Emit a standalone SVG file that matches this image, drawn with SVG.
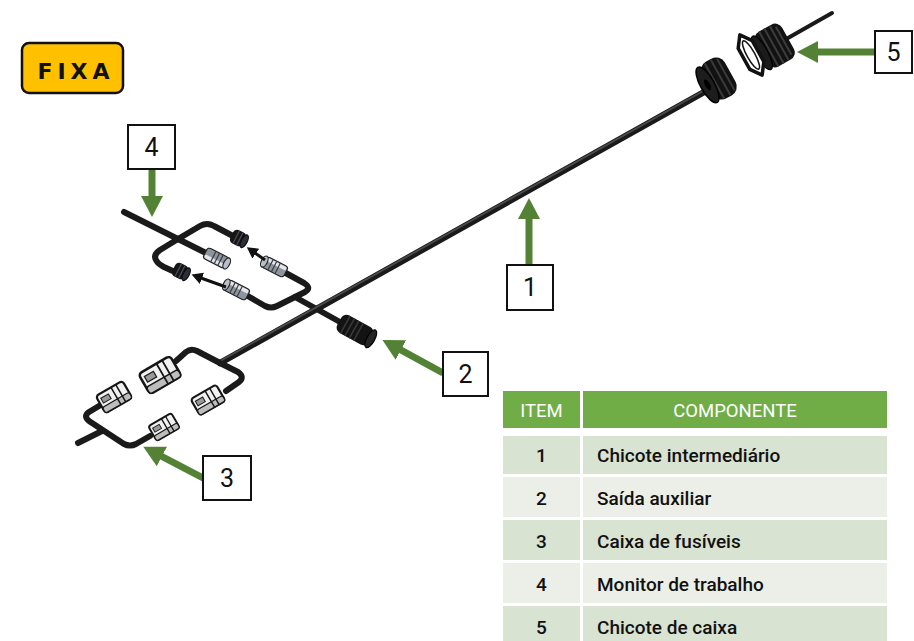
<svg xmlns="http://www.w3.org/2000/svg" xmlns:xlink="http://www.w3.org/1999/xlink" width="914" height="641" viewBox="0 0 914 641">
  <style>
    .wire { fill: none; stroke: #1a1a1a; stroke-width: 6; stroke-linecap: round; stroke-linejoin: round; }
    .wire-hl { fill: none; stroke: #4a4a4a; stroke-width: 1.8; stroke-linecap: round; stroke-linejoin: round; }
    .callout rect { fill: #ffffff; stroke: #111111; stroke-width: 2; }
    .callout text { font-family: Roboto, "Liberation Sans", sans-serif; font-size: 25px; fill: #111111; text-anchor: middle; }
    .green { stroke: #548235; stroke-width: 7; fill: none; marker-end: url(#greenHead); }
    .pointer { stroke: #111111; stroke-width: 3; fill: none; marker-end: url(#blackHead); }
    .th { font-family: Roboto, "Liberation Sans", sans-serif; font-size: 18.5px; fill: #ffffff; text-anchor: middle; }
    .td { font-family: Roboto, "Liberation Sans", sans-serif; font-size: 19px; font-weight: 500; fill: #111111; }
    .num { text-anchor: middle; }
    .hdr { fill: #70ad47; }
    .odd { fill: #d9e3d1; }
    .even { fill: #ebefe7; }
  </style>
  <defs>
    <marker id="greenHead" markerUnits="userSpaceOnUse" markerWidth="22" markerHeight="24" viewBox="0 -12 22 24" refX="1" refY="0" orient="auto">
      <path d="M0,-11 L21,0 L0,11 Z" fill="#548235"/>
    </marker>
    <marker id="blackHead" markerUnits="userSpaceOnUse" markerWidth="12" markerHeight="14" viewBox="0 -7 12 14" refX="1" refY="0" orient="auto">
      <path d="M0,-6 L11,0 L0,6 Z" fill="#111111"/>
    </marker>
    <!-- small metal plug, face at -x -->
    <g id="plug-metal">
      <rect x="-12" y="-6" width="24" height="12" rx="3" fill="#8f959e" stroke="#222" stroke-width="1.2"/>
      <rect x="-11" y="-5" width="22" height="3.5" rx="1.5" fill="#e3e6ea"/>
      <path d="M-5,-6 v12 M-1,-6 v12 M3,-6 v12" stroke="#3a3d44" stroke-width="1.2"/>
      <ellipse cx="-12" cy="0" rx="3" ry="6" fill="#b9bec6" stroke="#222" stroke-width="1.2"/>
    </g>
    <!-- small black knurled plug, face at -x -->
    <g id="plug-black">
      <rect x="-7" y="-7.5" width="14" height="15" rx="4.5" fill="#151515"/>
      <path d="M-2,-7 v14 M2,-7 v14" stroke="#4b4f5a" stroke-width="1.2"/>
      <ellipse cx="-7" cy="0" rx="3" ry="7" fill="#2a2e3a" stroke="#0b0b0b" stroke-width="1.2"/>
    </g>
    <!-- white plastic housing, face at -x -->
    <g id="housing">
      <rect x="-14" y="-9" width="28" height="18" rx="3" fill="#f1f1f1" stroke="#161616" stroke-width="2"/>
      <rect x="-14" y="3" width="28" height="6" rx="2" fill="#bdbdbd" stroke="#161616" stroke-width="1.2"/>
      <path d="M2,-9 v18 M7,-9 v18" stroke="#161616" stroke-width="1.4"/>
      <rect x="-11" y="-5" width="8" height="5" fill="#9a9a9a" stroke="#222" stroke-width="1"/>
    </g>
  </defs>

  <!-- mounting type badge -->
  <g id="badge">
    <rect x="22" y="43" width="101" height="50" rx="7" fill="#ffc000" stroke="#111111" stroke-width="2.5"/>
    <text x="76" y="79" font-family="'DejaVu Sans', Roboto, sans-serif" font-size="22" font-weight="bold" letter-spacing="5" text-anchor="middle" fill="#111111">FIXA</text>
  </g>

  <!-- wiring harness drawing -->
  <g id="harness">
    <!-- monitor branch cluster -->
    <g id="cluster-monitor">
      <path class="wire" d="M124,212 L204,252"/>
      <path class="wire" d="M178,239 L200,226 Q207,222 214,226 L233,236"/>
      <path class="wire" d="M178,239 L160,250 Q153,255 156,260 Q158,264 164,267 L175,272"/>
      <path class="wire" d="M282,271 L304,283 Q312,288 305,292 L277,306 Q271,309 265,306 L246,295"/>
      <path class="wire" d="M295,297 L340,322"/>
      <use xlink:href="#plug-metal" transform="translate(216,258) rotate(207)"/>
      <use xlink:href="#plug-black" transform="translate(238,238) rotate(207)"/>
      <use xlink:href="#plug-black" transform="translate(180,271) rotate(207)"/>
      <use xlink:href="#plug-metal" transform="translate(275,267) rotate(27)"/>
      <use xlink:href="#plug-metal" transform="translate(237,290) rotate(27)"/>
    </g>
    <!-- auxiliary output plug -->
    <g id="aux-plug" transform="translate(355,330) rotate(29)">
      <rect x="-18" y="-10" width="36" height="20" rx="6" fill="#131313"/>
      <path d="M-11,-10 v20 M-6,-10 v20 M-1,-10 v20 M4,-10 v20" stroke="#383838" stroke-width="1.6"/>
      <ellipse cx="18" cy="0" rx="4" ry="10" fill="#232323" stroke="#000" stroke-width="1.2"/>
    </g>
    <!-- fuse box cluster -->
    <g id="cluster-fuse">
      <path class="wire" d="M220,363 L197,351 Q191,348 186,352 L176,361"/>
      <path class="wire" d="M220,363 L238,372 Q245,377 239,382 L226,391"/>
      <path class="wire" d="M78,443 L102,431"/>
      <path class="wire" d="M99,406 L89,412 Q83,416 89,421 L124,444 Q130,447 136,444 L150,436"/>
      <use xlink:href="#housing" transform="translate(160,375) rotate(-30) scale(1.3)"/>
      <use xlink:href="#housing" transform="translate(208,400) rotate(-30) scale(1.05)"/>
      <use xlink:href="#housing" transform="translate(114,397) rotate(-30) scale(1.1)"/>
      <use xlink:href="#housing" transform="translate(164,427) rotate(-30) scale(0.95)"/>
    </g>
    <!-- main intermediate cable -->
    <g id="main-cable">
      <path class="wire" style="stroke-width:6.5" d="M706,91 L220,363"/>
      <path class="wire-hl" d="M705,90 L222,360"/>
      <path class="wire" style="stroke-width:4" d="M788,38 L832,13"/>
    </g>
    <!-- grommet on main cable -->
    <g id="grommet" transform="translate(718,79) rotate(-29)">
      <rect x="-12" y="-21" width="26" height="42" rx="10" fill="#121212"/>
      <path d="M-4,-20 v40 M3,-20 v40 M9,-18 v36" stroke="#3a3a3a" stroke-width="2"/>
      <ellipse cx="-12" cy="0" rx="7" ry="20" fill="#1d1d1d" stroke="#000" stroke-width="1.5"/>
      <ellipse cx="-12" cy="0" rx="2.5" ry="6" fill="#000"/>
    </g>
    <!-- cable gland with lock nut -->
    <g id="gland" transform="translate(774,46) rotate(-29)">
      <rect x="-14" y="-20" width="30" height="40" rx="8" fill="#121212"/>
      <path d="M-6,-20 v40 M0,-20 v40 M6,-19 v38 M11,-16 v32" stroke="#3c3c3c" stroke-width="2"/>
      <ellipse cx="-14" cy="0" rx="6" ry="19" fill="#1b1b1b" stroke="#000" stroke-width="1.2"/>
    </g>
    <g id="locknut" transform="translate(751,55) rotate(-29)">
      <polygon points="0,-23 8,-12 8,12 0,23 -8,12 -8,-12" fill="#ffffff" stroke="#111" stroke-width="3.5" stroke-linejoin="round"/>
      <ellipse cx="0" cy="0" rx="4" ry="16" fill="#ffffff" stroke="#111" stroke-width="1.5"/>
    </g>
  </g>

  <!-- callout arrows -->
  <g id="connectors">
    <line class="green" x1="152" y1="169" x2="152" y2="197"/>
    <line class="green" x1="529" y1="265" x2="529" y2="218"/>
    <line class="green" x1="875" y1="52" x2="817" y2="52"/>
    <line class="green" x1="443" y1="373" x2="400" y2="349.5"/>
    <line class="green" x1="205" y1="479" x2="161" y2="456"/>
    <line class="pointer" x1="265" y1="260" x2="255" y2="253"/>
    <line class="pointer" x1="226" y1="287" x2="201" y2="278"/>
  </g>

  <!-- numbered callout boxes -->
  <g id="callout-4" class="callout">
    <rect x="128" y="125" width="47" height="44"/>
    <text x="151.5" y="156">4</text>
  </g>
  <g id="callout-1" class="callout">
    <rect x="507" y="265" width="46" height="45"/>
    <text x="530" y="296">1</text>
  </g>
  <g id="callout-5" class="callout">
    <rect x="875" y="31" width="37" height="42"/>
    <text x="893.5" y="61">5</text>
  </g>
  <g id="callout-2" class="callout">
    <rect x="443" y="352" width="45" height="44"/>
    <text x="465.5" y="383">2</text>
  </g>
  <g id="callout-3" class="callout">
    <rect x="203" y="456" width="48" height="44"/>
    <text x="227" y="487">3</text>
  </g>

  <!-- component legend -->
  <g id="legend">
    <rect class="hdr" x="503" y="391" width="77" height="37"/>
    <rect class="hdr" x="583" y="391" width="304" height="37"/>
    <text class="th" x="541.5" y="417">ITEM</text>
    <text class="th" x="735" y="417">COMPONENTE</text>

    <rect class="odd" x="503" y="436" width="77" height="38"/>
    <rect class="odd" x="583" y="436" width="304" height="38"/>
    <text class="td num" x="541.5" y="462">1</text>
    <text class="td" x="597" y="462">Chicote intermediário</text>

    <rect class="even" x="503" y="477" width="77" height="40"/>
    <rect class="even" x="583" y="477" width="304" height="40"/>
    <text class="td num" x="541.5" y="505">2</text>
    <text class="td" x="597" y="505">Saída auxiliar</text>

    <rect class="odd" x="503" y="520" width="77" height="40"/>
    <rect class="odd" x="583" y="520" width="304" height="40"/>
    <text class="td num" x="541.5" y="548">3</text>
    <text class="td" x="597" y="548">Caixa de fusíveis</text>

    <rect class="even" x="503" y="563" width="77" height="40"/>
    <rect class="even" x="583" y="563" width="304" height="40"/>
    <text class="td num" x="541.5" y="591">4</text>
    <text class="td" x="597" y="591">Monitor de trabalho</text>

    <rect class="odd" x="503" y="606" width="77" height="40"/>
    <rect class="odd" x="583" y="606" width="304" height="40"/>
    <text class="td num" x="541.5" y="634">5</text>
    <text class="td" x="597" y="634">Chicote de caixa</text>
  </g>
</svg>
